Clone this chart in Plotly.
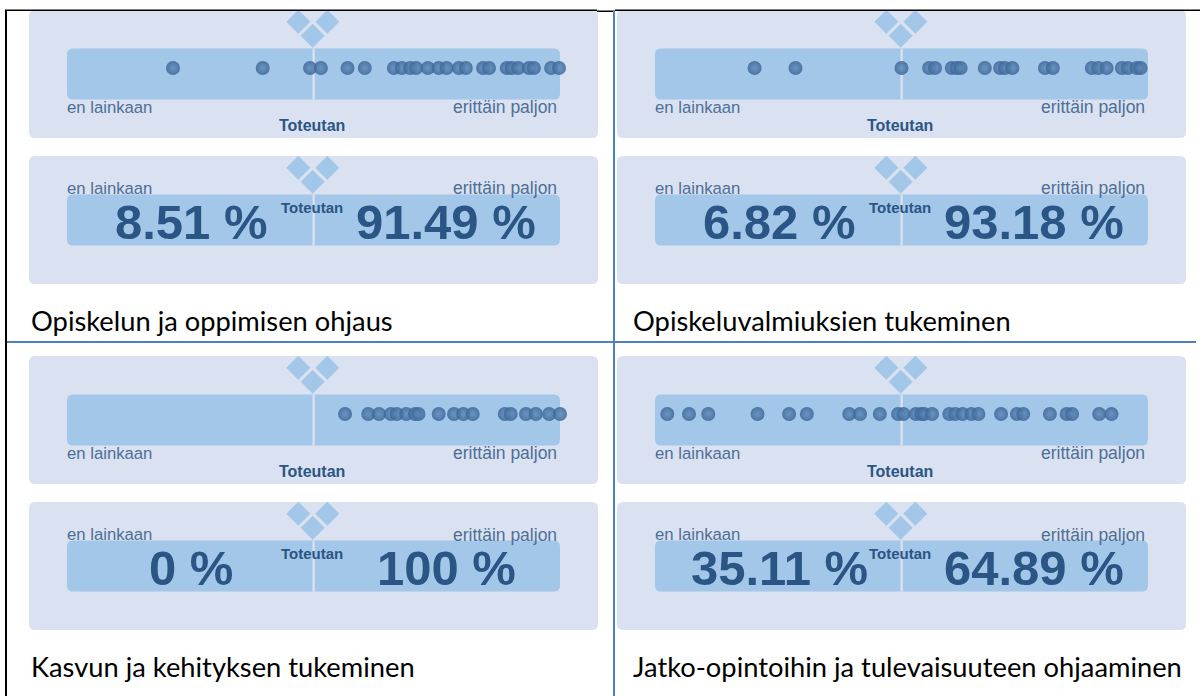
import plotly.graph_objects as go

W, H = 1200, 696

# Dot values on the 0-100 scale of each panel
dots_a = [21.5, 39.7, 49.3, 51.5, 56.9, 60.4, 66.3, 67.9, 69.6, 70.8, 73.2, 75.4, 77.0, 79.5, 80.9,
          84.4, 85.6, 89.2, 90.2, 91.5, 93.7, 94.7, 98.2, 99.8]
dots_b = [20.2, 28.5, 50.0, 55.6, 56.8, 60.2, 61.2, 62.0, 66.9, 70.0, 71.0, 72.5, 79.1, 80.7,
          88.6, 89.9, 91.6, 94.7, 95.9, 97.7, 98.5]
dots_c = [56.4, 61.1, 63.3, 65.7, 66.9, 68.8, 70.6, 71.3, 75.4, 78.5, 80.4, 82.3, 88.8, 90.0,
          93.1, 95.1, 97.8, 100.0]
dots_d = [2.5, 6.9, 10.8, 20.8, 27.2, 30.8, 39.4, 41.6, 45.6, 49.3, 50.4, 52.9, 54.0, 54.6, 56.2,
          59.7, 60.9, 62.4, 64.2, 65.6, 70.2, 73.4, 74.7, 80.1, 83.5, 84.6, 90.1, 92.6]
all_dots = [dots_a, dots_b, dots_c, dots_d]

low_labels = ["8.51 %", "6.82 %", "0 %", "35.11 %"]
high_labels = ["91.49 %", "93.18 %", "100 %", "64.89 %"]
captions = ["Opiskelun ja oppimisen ohjaus", "Opiskeluvalmiuksien tukeminen",
            "Kasvun ja kehityksen tukeminen", "Jatko-opintoihin ja tulevaisuuteen ohjaaminen"]
axis_left = "en lainkaan"
axis_right = "erittäin paljon"
axis_title = "Toteutan"

PANEL = "#dae1f0"
BAR = "#a3c7e8"
DARK = "#2b5585"
MID = "#4c7099"

bar_x = [67, 655, 67, 655]
top_y = [10, 10, 356, 356]
caption_x = [31, 633, 31, 633]
caption_y = [320.5, 320.5, 666.5, 666.5]


def px(x):
    return x / W


def py(y):
    return 1 - y / H


def rrect(x0, y0, x1, y1, r, fill):
    a, b, c, d = px(x0), px(x1), py(y0), py(y1)
    rx, ry = r / W, r / H
    path = (f"M{a+rx},{c} L{b-rx},{c} Q{b},{c} {b},{c-ry} L{b},{d+ry} Q{b},{d} {b-rx},{d} "
            f"L{a+rx},{d} Q{a},{d} {a},{d+ry} L{a},{c-ry} Q{a},{c} {a+rx},{c} Z")
    return dict(type="path", xref="paper", yref="paper", path=path, fillcolor=fill,
                line=dict(width=0), layer="below")


def diamond(cx, cy, r, fill):
    path = (f"M{px(cx-r)},{py(cy)} L{px(cx)},{py(cy-r)} L{px(cx+r)},{py(cy)} L{px(cx)},{py(cy+r)} Z")
    return dict(type="path", xref="paper", yref="paper", path=path, fillcolor=fill,
                line=dict(width=0), layer="below")


def rect(x0, y0, x1, y1, fill):
    return dict(type="rect", xref="paper", yref="paper", x0=px(x0), x1=px(x1), y0=py(y1), y1=py(y0),
                fillcolor=fill, line=dict(width=0), layer="below")


def text(x, y, s, size, color, anchor="center", bold=False, family="Liberation Sans"):
    return dict(xref="paper", yref="paper", x=px(x), y=py(y), text=f"<b>{s}</b>" if bold else s,
                showarrow=False, xanchor=anchor, yanchor="middle",
                font=dict(size=size, color=color, family=family), borderpad=0, borderwidth=0)


shapes, annotations = [], []
fig = go.Figure()

for i in range(4):
    bx, ty = bar_x[i], top_y[i]
    pl = bx - 38
    # upper card
    shapes.append(rrect(pl, ty, pl + 569, ty + 128, 6, PANEL))
    for dx, dy in ((231.3, 11.7), (260.3, 11.7), (245.7, 25.7)):
        shapes.append(diamond(bx + dx, ty + dy, 12, BAR))
    shapes.append(rrect(bx, ty + 38.5, bx + 493, ty + 89.5, 6, BAR))
    shapes.append(rect(bx + 245.5, ty + 38.5, bx + 247.8, ty + 89.5, PANEL))
    annotations.append(text(bx, ty + 97, axis_left, 16.7, MID, "left"))
    annotations.append(text(bx + 490, ty + 97, axis_right, 17.5, MID, "right"))
    annotations.append(text(bx + 245, ty + 116, axis_title, 16, DARK, bold=True))
    # lower card
    lt = ty + 146
    shapes.append(rrect(pl, lt, pl + 569, lt + 128, 6, PANEL))
    for dx, dy in ((231.3, 11.7), (260.3, 11.7), (245.7, 25.7)):
        shapes.append(diamond(bx + dx, lt + dy, 12, BAR))
    shapes.append(rrect(bx, lt + 38.5, bx + 493, lt + 89.5, 6, BAR))
    shapes.append(rect(bx + 245.5, lt + 38.5, bx + 247.8, lt + 89.5, PANEL))
    annotations.append(text(bx, lt + 32.5, axis_left, 16.7, MID, "left"))
    annotations.append(text(bx + 490, lt + 32.5, axis_right, 17.5, MID, "right"))
    annotations.append(text(bx + 124, lt + 66, low_labels[i], 49, DARK, bold=True))
    annotations.append(text(bx + 379, lt + 66, high_labels[i], 49, DARK, bold=True))
    annotations.append(text(bx + 245, lt + 51, axis_title, 15, DARK, bold=True))
    annotations.append(text(caption_x[i], caption_y[i], captions[i], 27.3, "#000000", "left", family="Lato"))

    # dots, placed through each panel's own 0-100 axis
    suffix = "" if i == 0 else str(i + 1)
    cy = ty + 58
    fig.add_trace(go.Scatter(
        x=all_dots[i], y=[0] * len(all_dots[i]), mode="markers", cliponaxis=False,
        xaxis=f"x{suffix}", yaxis=f"y{suffix}", showlegend=False, hoverinfo="skip",
        marker=dict(size=14, color="#3d6698", opacity=0.85, line=dict(width=0),
                    gradient=dict(type="radial", color="#5f8cba"))))
    fig.layout[f"xaxis{suffix}"] = dict(domain=[px(bx), px(bx + 493)], range=[0, 100], visible=False,
                                        anchor=f"y{suffix}", fixedrange=True)
    fig.layout[f"yaxis{suffix}"] = dict(domain=[py(cy + 10), py(cy - 10)], range=[-1, 1], visible=False,
                                        anchor=f"x{suffix}", fixedrange=True)

# table rules
for x0, y0, x1, y1, c in ((5, 9.5, 597, 11, "#000000"), (615, 9.5, 1200, 11, "#000000"),
                          (597, 10.5, 615, 12, "#000000"), (5, 10, 7, 696, "#000000"),
                          (7, 341, 1196, 343, "#4f81bd"), (613, 11, 615, 696, "#4f81bd")):
    s = rect(x0, y0, x1, y1, c)
    s["layer"] = "above"
    shapes.append(s)

fig.update_layout(width=W, height=H, margin=dict(l=0, r=0, t=0, b=0), autosize=False,
                  paper_bgcolor="#ffffff", plot_bgcolor="rgba(0,0,0,0)",
                  shapes=shapes, annotations=annotations, showlegend=False)

fig.write_html("out.html", config=dict(displayModeBar=False),
               post_script="document.body.style.margin='0';document.body.style.overflow='hidden';")
